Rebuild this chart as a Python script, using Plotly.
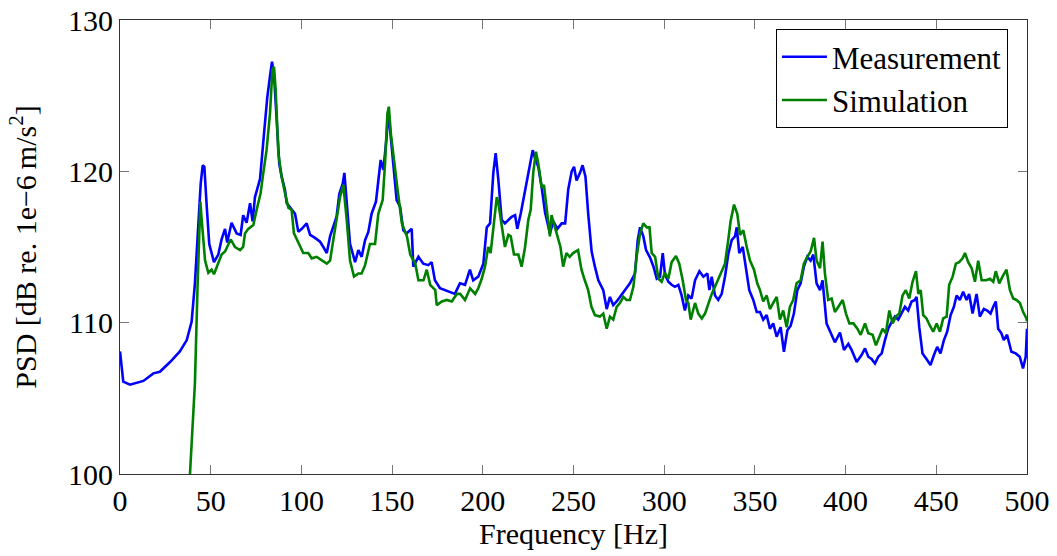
import plotly.graph_objects as go

# Measurement (blue)
freq_meas = [0, 1.8, 5.5, 12.9, 18.4, 22, 27.6, 33, 36.8, 39.5,
             41.3, 43.2, 44.5, 45.6, 46.5, 47.8, 49.2, 51.8, 54.2, 56,
             57.9, 59.1, 61.5, 64.3, 66.5, 67.9, 69.8, 71.7, 73.1, 74.4,
             77.2, 79.4, 81.2, 82.7, 83.8, 84.9, 86.4, 87.8, 89.1, 90.9,
             91.9, 93.7, 96.5, 98.3, 100.2, 102.9, 104.8, 107.5, 110.3, 112.1,
             114, 115.8, 117.6, 119.4, 120.9, 122.8, 123.7, 125, 126.8, 129.6,
             131.4, 133.2, 135.1, 136.9, 138.7, 141.1, 142.4, 143.7, 145.2, 147,
             147.9, 148.8, 150.7, 152.5, 154.4, 156.2, 158, 160.8, 161.7, 164.5,
             167.2, 170, 171.8, 173.6, 176.4, 179.1, 181.9, 184.6, 187.4, 190.2,
             192.9, 194.7, 197.5, 200.3, 202.2, 204, 205.8, 207.1, 208.6, 210.4,
             212.2, 214.1, 215.9, 217.8, 219, 220.9, 222.3, 224.2, 225.6, 227.5,
             228.8, 230.6, 232.5, 234.3, 237, 238.9, 241.1, 243.5, 245.4, 247.1,
             249, 250.3, 251.7, 253.6, 255, 256.6, 258.1, 260, 261.8, 263.7,
             266.4, 268.3, 270.1, 271.9, 273.8, 275.6, 278.4, 281.1, 283.9, 285.4,
             286.7, 288.5, 290, 292.2, 294.1, 295.9, 297.7, 299.2, 300.4, 302.3,
             304.1, 305.9, 307.8, 309.6, 311.4, 313.3, 315.1, 317, 319.4, 321.6,
             323.8, 324.9, 326.2, 328, 329.8, 331.7, 333.5, 335.3, 337.2, 339,
             340, 341.4, 343.3, 345.1, 346.9, 349.1, 351, 352.8, 354.6, 356.5,
             358.3, 360.1, 362, 364.2, 366, 367.9, 369.7, 371.5, 373.4, 375.2,
             377, 378.9, 380.7, 382.2, 384, 385.9, 387.3, 389.5, 392.3, 394.1,
             396.9, 399.1, 401.5, 403.3, 406.1, 408.8, 410.7, 412.5, 414.3, 416.2,
             418, 419.9, 421.7, 423.5, 425.4, 427.2, 429, 430.9, 432.7, 434.5,
             436.4, 438.2, 439.1, 440.6, 442.4, 444.6, 446.8, 448.7, 450.5, 452.3,
             454.2, 456, 457.9, 459.7, 461.2, 463, 464.8, 466.7, 468.1, 470,
             472.2, 474, 476.2, 478.1, 479.9, 481.4, 482.8, 484.1, 485.9, 487.2,
             489, 491.4, 493.8, 496, 497.8, 499.3, 500]
psd_meas = [108.1, 106.1, 105.9, 106.15, 106.65, 106.76, 107.4, 108.1, 108.85, 110.07,
            112.6, 117.0, 119.2, 120.4, 120.3, 117.7, 115.2, 114.0, 114.5, 115.5,
            116.2, 115.3, 116.6, 115.9, 115.8, 117.1, 116.6, 117.9, 116.7, 118.3,
            119.5, 122.5, 124.9, 126.3, 127.25, 126.4, 123.6, 120.5, 119.65, 118.8,
            117.9, 117.6, 117.2, 116.0, 116.2, 116.56, 115.8, 115.6, 115.35, 115.0,
            114.6, 115.7, 116.3, 117.0, 118.5, 119.2, 119.9, 117.7, 115.2, 114.0,
            114.8, 114.35, 115.45, 116.0, 117.2, 118.0, 119.4, 120.75, 120.1, 122.3,
            124.05, 122.95, 120.5, 118.1, 117.66, 116.1, 115.9, 116.2, 113.7, 114.35,
            113.9, 113.8, 114.0, 112.8, 112.27, 112.15, 112.04, 111.9, 112.6, 112.5,
            113.5, 112.8, 113.04, 113.9, 116.3, 116.56, 119.9, 121.2, 119.4, 116.8,
            116.56, 116.8, 117.0, 117.1, 116.2, 117.2, 118.1, 119.2, 120.0, 121.4,
            120.86, 120.3, 118.9, 117.3, 115.9, 116.7, 116.2, 116.56, 116.56, 118.8,
            120.0, 120.3, 119.4, 119.9, 120.4, 119.65, 117.2, 114.7, 113.7, 112.8,
            112.15, 110.9, 111.7, 111.16, 111.4, 111.7, 112.15, 112.6, 113.25, 115.45,
            116.3, 115.7, 114.8, 114.3, 113.7, 112.9, 113.04, 114.6, 113.2, 112.7,
            112.5, 112.37, 112.5, 111.8, 110.8, 111.8, 111.6, 112.8, 113.4, 113.04,
            113.25, 112.15, 113.04, 111.8, 111.5, 111.9, 113.04, 114.5, 115.45, 115.7,
            116.3, 114.6, 115.0, 113.7, 112.15, 111.5, 110.7, 110.7, 110.2, 110.5,
            109.6, 109.95, 109.07, 109.7, 108.08, 109.5, 109.8, 110.6, 112.15, 112.6,
            113.7, 114.35, 114.1, 114.5, 112.6, 112.15, 112.8, 109.95, 109.2, 108.7,
            109.35, 108.2, 108.6, 108.2, 107.4, 107.86, 108.3, 107.75, 107.6, 107.3,
            107.75, 107.97, 108.85, 109.6, 110.05, 110.4, 110.2, 110.6, 111.05, 110.8,
            111.4, 111.5, 111.7, 109.7, 107.97, 107.6, 107.2, 107.86, 108.4, 107.97,
            108.85, 109.4, 110.5, 111.05, 111.8, 111.5, 112.04, 111.5, 111.9, 110.6,
            111.9, 110.4, 110.9, 110.8, 110.6, 111.05, 111.4, 109.6, 109.3, 108.85,
            109.2, 108.08, 107.97, 107.75, 106.98, 107.75, 109.6]

# Simulation (green)
freq_sim = [37, 38.6, 41.3, 42.8, 44.3, 44.9, 46.9, 48.7, 50.5, 51.8,
            54.2, 56, 57.9, 61, 63.4, 66.2, 67.9, 68.9, 70.7, 73.5,
            75.3, 77.5, 79, 80.8, 82.7, 84, 84.9, 85.8, 87.3, 89.1,
            90.9, 92.8, 94.6, 95.9, 98.3, 101, 103.8, 105.7, 108.4, 111.2,
            114, 115.8, 117.6, 119.4, 121.3, 123.1, 125, 126.8, 129, 131.4,
            133.2, 135.1, 137.8, 140.6, 142.4, 144.8, 146.1, 147.4, 148.2, 149.3,
            151.1, 153, 155.4, 158.2, 160, 162.8, 164.5, 167.3, 169.1, 171,
            173.8, 174.6, 177.4, 180.2, 182.9, 185.7, 187.5, 190.2, 193, 195.8,
            197.5, 199.4, 201.2, 203, 204.3, 205.8, 207.7, 208.6, 210.4, 212.2,
            214.1, 215.4, 217.2, 219.6, 221.4, 223.3, 225.1, 226.4, 227.8, 229.3,
            230.6, 232.5, 233.7, 235.2, 237, 237.9, 239.7, 241.6, 242.8, 244.3,
            246.1, 247.9, 249.8, 252.5, 254.4, 256.2, 258.1, 259.9, 261.8, 264.5,
            266.4, 268.3, 270.1, 271.9, 273.8, 275.6, 277.5, 279.3, 281.1, 283,
            284.8, 286.7, 288.5, 290.4, 291.9, 293.1, 295, 296.8, 298.6, 300.4,
            302.3, 304.1, 306.5, 308.3, 310.2, 312, 313.3, 314.6, 317, 318.8,
            320.7, 322.5, 324.3, 326.2, 328, 329.8, 331.7, 333.5, 335.3, 336.6,
            338.5, 340.3, 341.8, 343.6, 345.5, 347.3, 349.5, 351.3, 352.8, 354.6,
            356.5, 358.3, 360.1, 362, 363.8, 365.6, 367.5, 369.3, 371.1, 373,
            375.2, 377, 378.9, 380.7, 382.6, 384, 385.9, 387.3, 388.6, 390.4,
            392.3, 394.1, 396, 398.4, 400.2, 402.1, 404.3, 406.5, 408.3, 410.7,
            412.5, 414.9, 416.7, 418.5, 420.4, 422.2, 424.1, 425.9, 427.7, 429.6,
            431.4, 433.2, 435.1, 436.9, 438.8, 440.1, 441.4, 442.8, 444.6, 446.5,
            448.3, 450.2, 452, 453.8, 455.7, 457.1, 459, 460.8, 462.6, 464.5,
            465.8, 467.6, 469.5, 471.3, 473.1, 475, 477.4, 479.6, 481.4, 482.8,
            484.7, 486.5, 488.7, 490.6, 492.4, 494.2, 496.1, 497.9, 499.7, 500]
psd_sim = [96.5, 100.0, 106.0, 112.6, 118.0, 117.0, 114.1, 113.3, 113.5, 113.2,
           113.9, 114.5, 114.7, 115.5, 115.0, 114.8, 115.0, 115.9, 116.2, 116.45,
           117.45, 118.55, 119.9, 121.4, 123.85, 126.7, 126.9, 125.4, 121.2, 119.65,
           118.6, 117.6, 117.45, 115.9, 115.3, 114.6, 114.6, 114.25, 114.35, 114.1,
           113.9, 114.1, 115.45, 116.8, 118.3, 119.1, 116.8, 114.1, 113.04, 113.25,
           113.25, 113.8, 115.2, 115.2, 117.2, 118.1, 120.5, 123.8, 124.27, 122.5,
           120.5, 118.8, 116.56, 115.7, 114.5, 113.9, 112.8, 112.8, 113.5, 112.5,
           112.15, 111.16, 111.4, 111.5, 111.4, 111.9, 111.9, 111.5, 112.27, 111.9,
           112.27, 112.9, 113.7, 115.0, 114.6, 116.3, 118.3, 117.9, 116.3, 115.0,
           115.8, 115.7, 114.5, 114.5, 113.7, 115.0, 116.8, 117.45, 119.9, 121.3,
           120.5, 118.9, 119.1, 117.55, 115.7, 117.1, 116.3, 115.45, 115.0, 113.7,
           114.6, 114.35, 114.6, 114.8, 113.5, 112.8, 112.15, 111.05, 110.5, 110.4,
           110.6, 109.6, 110.4, 110.2, 111.05, 111.3, 111.7, 111.5, 111.5, 112.37,
           114.35, 115.9, 116.56, 116.3, 116.3, 114.6, 114.35, 112.9, 112.7, 113.3,
           112.9, 114.0, 114.4, 113.9, 112.8, 111.5, 111.3, 110.2, 111.3, 110.6,
           110.28, 110.6, 111.3, 111.9, 112.37, 112.9, 113.4, 113.9, 115.45, 116.7,
           117.8, 117.2, 115.8, 116.1, 115.0, 114.1, 113.5, 112.6, 112.15, 111.4,
           111.8, 110.9, 111.3, 111.7, 110.2, 110.8, 109.7, 111.05, 111.5, 112.6,
           112.8, 113.9, 114.35, 114.7, 115.6, 114.1, 113.6, 115.35, 113.25, 111.5,
           111.6, 110.7, 111.05, 111.5, 110.6, 109.95, 109.95, 109.6, 109.2, 109.95,
           109.3, 109.2, 108.5, 109.07, 109.6, 109.3, 110.8, 109.95, 110.4, 110.6,
           111.8, 112.15, 111.6, 112.7, 113.4, 111.9, 112.15, 110.5, 110.28, 109.8,
           109.4, 109.95, 109.4, 110.28, 110.4, 112.5, 113.04, 113.9, 114.0, 114.25,
           114.6, 114.0, 113.6, 112.7, 114.1, 112.8, 112.8, 112.9, 112.7, 113.4,
           112.6, 113.04, 113.5, 112.15, 111.6, 111.5, 111.3, 110.7, 110.28, 110.1]

x_ticks = [0, 50, 100, 150, 200, 250, 300, 350, 400, 450, 500]
y_ticks = [100, 110, 120, 130]

FONT = "Liberation Serif, Times New Roman, serif"

fig = go.Figure()
fig.add_trace(go.Scatter(x=freq_meas, y=psd_meas, mode="lines", name="Measurement",
                         line=dict(color="#0000ff", width=2.6)))
fig.add_trace(go.Scatter(x=freq_sim, y=psd_sim, mode="lines", name="Simulation",
                         line=dict(color="#008000", width=2.6)))

axis_common = dict(showgrid=False, zeroline=False, showline=True, linecolor="#333333",
                   linewidth=1.2, mirror="ticks", ticks="inside", ticklen=9,
                   tickcolor="#777777", tickwidth=1, automargin=False,
                   ticklabeloverflow="allow",
                   tickfont=dict(family=FONT, size=30, color="black"))

fig.update_xaxes(range=[0, 500], tickvals=x_ticks,
                 title=dict(text="Frequency [Hz]", font=dict(family=FONT, size=30, color="black"),
                            standoff=4),
                 **axis_common)
fig.update_yaxes(range=[100, 130], tickvals=y_ticks,
                 title=dict(text="PSD [dB re. 1e\u22126\u2009m/s<sup>2</sup>]",
                            font=dict(family=FONT, size=30, color="black"), standoff=22),
                 **axis_common)

fig.update_layout(
    width=1057, height=556,
    margin=dict(l=120, r=30, t=20, b=82),
    plot_bgcolor="white", paper_bgcolor="white",
    font=dict(family=FONT, size=30, color="black"),
    legend=dict(x=0.979, y=0.98, xanchor="right", yanchor="top",
                bgcolor="white", bordercolor="black", borderwidth=1,
                font=dict(family=FONT, size=31, color="black"),
                itemwidth=45, tracegroupgap=0),
    showlegend=True,
)

# remove the default 8px body margin so the figure fills the window exactly
fig.write_html("out.html", config={"displayModeBar": False},
               post_script="document.body.style.margin='0';document.body.style.overflow='hidden';")
